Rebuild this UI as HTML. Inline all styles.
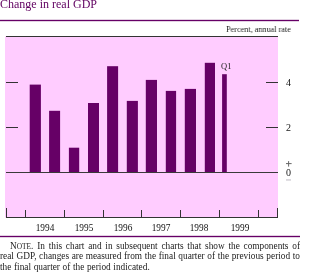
<!DOCTYPE html>
<html><head><meta charset="utf-8">
<style>
html,body{margin:0;padding:0;background:#fff;}
body{width:300px;height:272px;position:relative;overflow:hidden;-webkit-font-smoothing:antialiased;font-family:"Liberation Serif",serif;}
.t{will-change:transform;position:absolute;white-space:nowrap;line-height:1;}
#title{left:0.3px;top:-1.8px;font-size:12px;color:#600060;}
#unit{left:226.4px;top:25px;font-size:9px;color:#1a1a1a;transform:scaleX(0.91);transform-origin:0 0;}
.yl{will-change:transform;position:absolute;font-size:9px;color:#151515;line-height:1;}
.note{will-change:transform;position:absolute;left:0;width:300px;font-size:9.3px;color:#222;line-height:1;white-space:nowrap;}
.j{text-align:justify;text-align-last:justify;white-space:normal;}
.sc{font-size:7.4px;}
svg{position:absolute;left:0;top:0;}
.yr{top:224px;width:40px;text-align:center;font-size:9.3px;color:#111;}
</style></head><body>
<div class="t" id="title">Change in real GDP</div>
<svg width="300" height="272" viewBox="0 0 300 272">
  <rect x="0" y="19" width="299" height="3" fill="#660066" fill-opacity="0.18"/><rect x="0" y="20" width="299" height="1" fill="#660066"/>
  <rect x="5" y="36.5" width="273" height="181" fill="#ffccff"/>
  <rect x="6" y="36" width="272" height="1" fill="#333"/>
  <rect x="6" y="217" width="272" height="1" fill="#333"/>
  <rect x="266" y="82" width="12" height="1" fill="#333"/>
  <rect x="6" y="82" width="12" height="1" fill="#333"/>
  <rect x="6" y="127" width="12" height="1" fill="#333"/>
  <rect x="266" y="127" width="12" height="1" fill="#333"/>
  <!-- x ticks -->
  <rect x="6" y="208" width="1" height="9" fill="#333"/>
  <rect x="277" y="208" width="1" height="9" fill="#333"/>
  <rect x="25" y="210" width="1" height="7" fill="#333"/>
  <rect x="64" y="210" width="1" height="7" fill="#333"/>
  <rect x="103" y="210" width="1" height="7" fill="#333"/>
  <rect x="141" y="210" width="1" height="7" fill="#333"/>
  <rect x="180" y="210" width="1" height="7" fill="#333"/>
  <rect x="219" y="210" width="1" height="7" fill="#333"/>
  <rect x="258" y="210" width="1" height="7" fill="#333"/>
  <!-- bars -->
  <g fill="#660066">
    <rect x="29.7" y="84.6" width="11.2" height="87.9"/>
    <rect x="49.1" y="110.8" width="11" height="61.7"/>
    <rect x="68.9" y="147.7" width="10.3" height="24.8"/>
    <rect x="88" y="103" width="11" height="69.5"/>
    <rect x="107.1" y="66.2" width="11" height="106.3"/>
    <rect x="126.8" y="100.9" width="11.1" height="71.6"/>
    <rect x="145.8" y="79.9" width="11.2" height="92.6"/>
    <rect x="165.8" y="90.9" width="10.3" height="81.6"/>
    <rect x="184.8" y="88.9" width="11.2" height="83.6"/>
    <rect x="204.8" y="62.8" width="10.2" height="109.7"/>
    <rect x="222.1" y="74.2" width="4.7" height="98.3"/>
  </g>
  <rect x="6" y="172" width="272" height="1" fill="#3a3a3a"/>
  <rect x="0" y="235" width="300" height="3" fill="#660066" fill-opacity="0.18"/><rect x="0" y="236" width="300" height="1" fill="#660066"/>
  <rect x="286" y="163.1" width="5.6" height="1" fill="#666"/>
  <rect x="288.1" y="161.1" width="1" height="5.5" fill="#666"/>
  <rect x="286" y="179.4" width="5" height="1.1" fill="#c4c0c8"/>
</svg>
<div class="t" id="unit">Percent, annual rate</div>
<div class="t" style="left:221px;top:62px;font-size:8.5px;color:#222;">Q1</div>
<div class="yl" style="left:286px;top:77.5px;font-size:10px;">4</div>
<div class="yl" style="left:286px;top:122.5px;font-size:10px;">2</div>

<div class="yl" style="left:286px;top:168px;font-size:10px;">0</div>

<div class="yl yr" style="left:25.2px;">1994</div>
<div class="yl yr" style="left:63.7px;">1995</div>
<div class="yl yr" style="left:102.7px;">1996</div>
<div class="yl yr" style="left:141.3px;">1997</div>
<div class="yl yr" style="left:179.1px;">1998</div>
<div class="yl yr" style="left:219.9px;">1999</div>
<div class="note j" style="top:241.6px;padding-left:10px;width:290px;">N<span class="sc">OTE</span>. In this chart and in subsequent charts that show the components of</div>
<div class="note j" style="top:252px;">real GDP, changes are measured from the final quarter of the previous period to</div>
<div class="note" style="top:262.8px;word-spacing:0.3px;">the final quarter of the period indicated.</div>
</body></html>
